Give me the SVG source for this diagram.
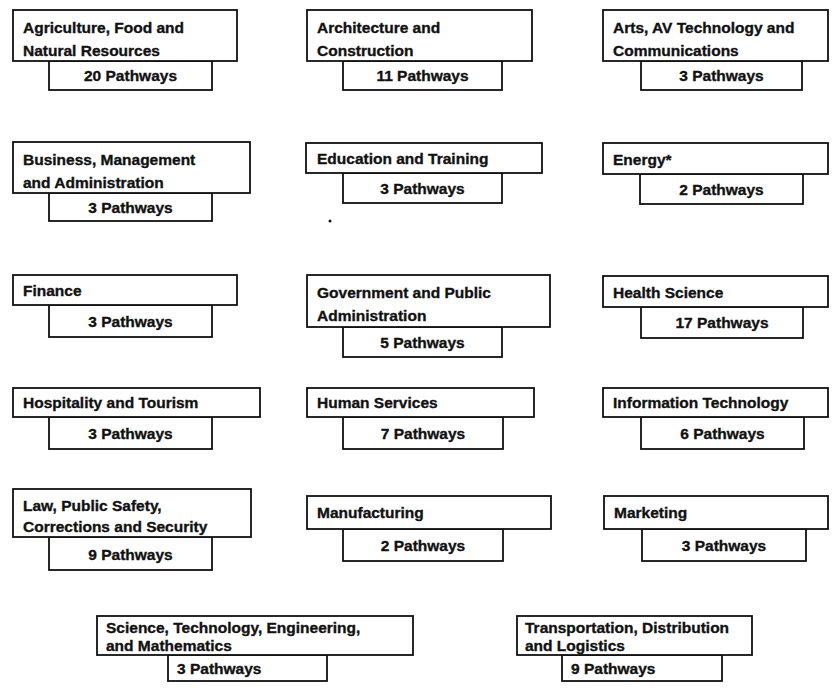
<svg xmlns="http://www.w3.org/2000/svg" width="839" height="697" viewBox="0 0 839 697">
<style>
rect.b{fill:#fff;stroke:#111;stroke-width:1.8}
text{font-family:"Liberation Sans",Arial,sans-serif;font-weight:bold;font-size:15.5px;fill:#111;stroke:#111;stroke-width:0.35}
text.c{text-anchor:middle}
</style>
<rect width="839" height="697" fill="#fff"/>
<g id="connectors"/>
<g id="agriculture">
<rect class="b" x="49" y="61" width="163" height="29"/>
<rect class="b" x="13" y="10" width="224" height="51"/>
<text x="23" y="33">Agriculture, Food and</text>
<text x="23" y="56">Natural Resources</text>
<text class="c" x="130.5" y="81">20 Pathways</text>
</g>
<g id="architecture">
<rect class="b" x="343" y="61" width="159" height="29"/>
<rect class="b" x="307" y="10" width="225" height="51"/>
<text x="317" y="33">Architecture and</text>
<text x="317" y="56">Construction</text>
<text class="c" x="422.5" y="81">11 Pathways</text>
</g>
<g id="arts">
<rect class="b" x="641" y="61" width="161" height="29"/>
<rect class="b" x="603" y="10" width="225" height="51"/>
<text x="613" y="33">Arts, AV Technology and</text>
<text x="613" y="56">Communications</text>
<text class="c" x="721.5" y="81">3 Pathways</text>
</g>
<g id="business">
<rect class="b" x="49" y="193" width="163" height="28"/>
<rect class="b" x="13" y="142" width="237" height="51"/>
<text x="23" y="165">Business, Management</text>
<text x="23" y="188">and Administration</text>
<text class="c" x="130.5" y="213">3 Pathways</text>
</g>
<g id="education">
<rect class="b" x="343" y="173" width="159" height="30"/>
<rect class="b" x="306" y="143" width="236" height="30"/>
<text x="317" y="164">Education and Training</text>
<text class="c" x="422.5" y="194">3 Pathways</text>
</g>
<circle cx="330" cy="221" r="1.5" fill="#111"/>
<g id="energy">
<rect class="b" x="640" y="174" width="163" height="30"/>
<rect class="b" x="603" y="143" width="225" height="31"/>
<text x="613" y="165">Energy*</text>
<text class="c" x="721.5" y="195">2 Pathways</text>
</g>
<g id="finance">
<rect class="b" x="49" y="305" width="163" height="32"/>
<rect class="b" x="13" y="275" width="224" height="30"/>
<text x="23" y="296">Finance</text>
<text class="c" x="130.5" y="327">3 Pathways</text>
</g>
<g id="government">
<rect class="b" x="343" y="327" width="159" height="30"/>
<rect class="b" x="307" y="275" width="243" height="52"/>
<text x="317" y="298">Government and Public</text>
<text x="317" y="321">Administration</text>
<text class="c" x="422.5" y="348">5 Pathways</text>
</g>
<g id="health">
<rect class="b" x="641" y="307" width="162" height="31"/>
<rect class="b" x="603" y="276" width="225" height="31"/>
<text x="613" y="298">Health Science</text>
<text class="c" x="722" y="328">17 Pathways</text>
</g>
<g id="hospitality">
<rect class="b" x="49" y="417" width="163" height="32"/>
<rect class="b" x="13" y="388" width="247" height="29"/>
<text x="23" y="408">Hospitality and Tourism</text>
<text class="c" x="130.5" y="439">3 Pathways</text>
</g>
<g id="human">
<rect class="b" x="343" y="417" width="160" height="32"/>
<rect class="b" x="307" y="388" width="227" height="29"/>
<text x="317" y="408">Human Services</text>
<text class="c" x="423" y="439">7 Pathways</text>
</g>
<g id="information">
<rect class="b" x="641" y="417" width="163" height="32"/>
<rect class="b" x="603" y="388" width="225" height="29"/>
<text x="613" y="408">Information Technology</text>
<text class="c" x="722.5" y="439">6 Pathways</text>
</g>
<g id="law">
<rect class="b" x="49" y="537" width="163" height="33"/>
<rect class="b" x="13" y="489" width="238" height="48"/>
<text x="23" y="511">Law, Public Safety,</text>
<text x="23" y="532">Corrections and Security</text>
<text class="c" x="130.5" y="560">9 Pathways</text>
</g>
<g id="manufacturing">
<rect class="b" x="343" y="529" width="160" height="32"/>
<rect class="b" x="307" y="496" width="244" height="33"/>
<text x="317" y="518">Manufacturing</text>
<text class="c" x="423" y="551">2 Pathways</text>
</g>
<g id="marketing">
<rect class="b" x="642" y="529" width="164" height="32"/>
<rect class="b" x="604" y="496" width="224" height="33"/>
<text x="614" y="518">Marketing</text>
<text class="c" x="724" y="551">3 Pathways</text>
</g>
<g id="science">
<rect class="b" x="168" y="655" width="159" height="26"/>
<rect class="b" x="97" y="616" width="316" height="39"/>
<text x="106" y="633">Science, Technology, Engineering,</text>
<text x="106" y="651">and Mathematics</text>
<text x="177" y="674">3 Pathways</text>
</g>
<g id="transportation">
<rect class="b" x="562" y="655" width="160" height="26"/>
<rect class="b" x="517" y="616" width="235" height="39"/>
<text x="525" y="633">Transportation, Distribution</text>
<text x="525" y="651">and Logistics</text>
<text x="571" y="674">9 Pathways</text>
</g>
</svg>
